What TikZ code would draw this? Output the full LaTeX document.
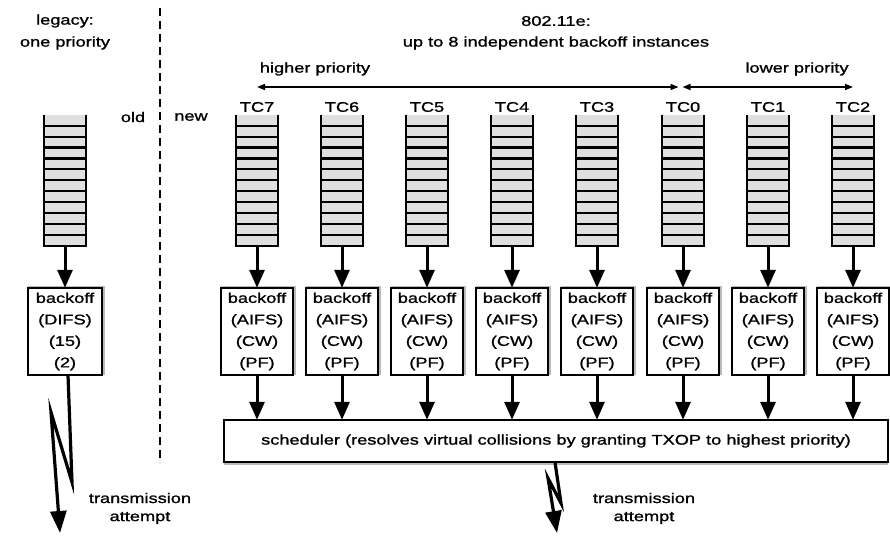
\documentclass[tikz,border=0pt]{standalone}
\usepackage{fontspec}
\setmainfont{Liberation Sans}[FakeStretch=1.3, FakeBold=1.2]
\usetikzlibrary{arrows.meta,calc}
\begin{document}
\begin{tikzpicture}[x=1pt,y=-1pt,
  every node/.style={font=\fontsize{14}{21.5}\selectfont, inner sep=0pt},
  lbl/.style={align=center},
  queuest/.style={minimum width=42pt, minimum height=131pt, fill=gray!25},
  qline/.style={line width=2.2pt, black},
  boxst/.style={minimum width=72pt, minimum height=87pt, align=center, fill=white},
  boxline/.style={line width=1.8pt, black},
  shadowline/.style={line width=2.2pt, gray!55},
  bigarrow/.style={line width=3pt, -{Triangle[length=18pt,width=15pt]}},
  zigzag/.style={line width=3.2pt, line join=miter, -{Triangle[length=22pt,width=16pt]}},
  prioarrow/.style={line width=1.6pt, {Triangle[length=8pt,width=6pt]}-{Triangle[length=8pt,width=6pt]}},
  divider/.style={line width=2pt, dash pattern=on 8pt off 5pt}
]
\useasboundingbox (0,0) rectangle (890,535);

% titles
\node[lbl] (tl1) at (65,21) {legacy:};
\node[lbl] (tl2) at (65,43) {one priority};
\node[lbl] (tr1) at (556,21) {802.11e:};
\node[lbl] (tr2) at (556,43) {up to 8 independent backoff instances};
\node[lbl] (hp) at (315,69) {higher priority};
\node[lbl] (lp) at (797,69) {lower priority};
\node[lbl] (old) at (133,117) {old};
\node[lbl] (new) at (191,117) {new};

% divider
\coordinate (d1) at (160,8);
\coordinate (d2) at (160,463);
\draw[divider] (d1) -- (d2);

% priority arrows
\coordinate (pa) at (257,87);
\coordinate (pb) at (678.5,87);
\coordinate (pc) at (682.5,87);
\coordinate (pd) at (853,87);
\draw[prioarrow] (pb) -- (pa);
\draw[prioarrow] (pc) -- (pd);

% scheduler
\node[minimum width=664pt, minimum height=42pt, fill=white] (sch) at (556,441)
  {scheduler (resolves virtual collisions by granting TXOP to highest priority)};
\draw[shadowline] ($(sch.south west)+(0,1.2)$) -- ($(sch.south east)+(0,1.2)$);
\draw[boxline] (sch.north west) rectangle (sch.south east);

% legacy queue and backoff
\node[queuest] (qL) at (65,180.5) {};
\draw[qline] (qL.north west) -- (qL.south west) -- (qL.south east) -- (qL.north east);
\foreach \k in {1,...,11}
  \draw[qline] ($(qL.north west)+(0,\k*10.917)$) -- ($(qL.north east)+(0,\k*10.917)$);
\node[boxst, minimum width=74pt] (bL) at (65,331.5) {backoff\\(DIFS)\\(15)\\(2)};
\draw[shadowline] ($(bL.north west)+(0,-1.2)$) -- ($(bL.north east)+(1.2,-1.2)$) -- ($(bL.south east)+(1.2,0)$);
\draw[boxline] (bL.north west) rectangle (bL.south east);
\draw[bigarrow] (qL.south) -- (bL.north);
\coordinate (tL) at (60,533);
\draw[zigzag] ($(bL.south)+(3,0)$) -- ++(4,107) -- ++(-21,-70) -- (tL);
\node[lbl] (ta1) at (140,498) {transmission};
\node[lbl] (ta2) at (140,518) {attempt};

% 802.11e queues and backoffs
\foreach \c/\lab [count=\i] in {257/TC7,342/TC6,427/TC5,512/TC4,597/TC3,683/TC0,768/TC1,853/TC2} {
  \node[lbl] (l\i) at (\c,107) {\lab};
  \node[queuest] (q\i) at (\c,180.5) {};
  \draw[qline] (q\i.north west) -- (q\i.south west) -- (q\i.south east) -- (q\i.north east);
  \foreach \k in {1,...,11}
    \draw[qline] ($(q\i.north west)+(0,\k*10.917)$) -- ($(q\i.north east)+(0,\k*10.917)$);
  \node[boxst] (b\i) at (\c,331.5) {backoff\\(AIFS)\\(CW)\\(PF)};
  \draw[shadowline] ($(b\i.north west)+(0,-1.2)$) -- ($(b\i.north east)+(1.2,-1.2)$) -- ($(b\i.south east)+(1.2,0)$);
  \draw[boxline] (b\i.north west) rectangle (b\i.south east);
  \draw[bigarrow] (q\i.south) -- (b\i.north);
  \draw[bigarrow] (b\i.south) -- (b\i.south |- sch.north);
}

% scheduler transmission
\coordinate (tS) at (557,533);
\draw[zigzag] ($(sch.south)+(-1,0)$) -- ++(6,41) -- ++(-13,-25) -- (tS);
\node[lbl] (tb1) at (644,498) {transmission};
\node[lbl] (tb2) at (644,518) {attempt};
\end{tikzpicture}
\end{document}
